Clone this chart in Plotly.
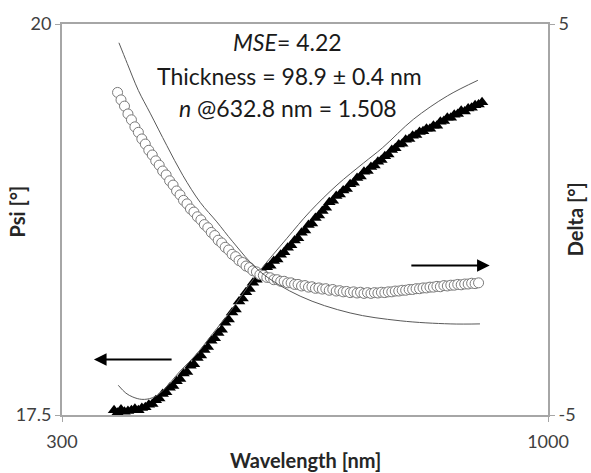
import plotly.graph_objects as go

# ---------------- data ----------------
psi_wl = list(range(375, 906, 5))
psi = [17.53, 17.515, 17.535, 17.52, 17.525, 17.53, 17.54, 17.53, 17.545, 17.55,
       17.565, 17.57, 17.595, 17.605, 17.635, 17.645, 17.675, 17.685, 17.715, 17.73,
       17.765, 17.775, 17.815, 17.825, 17.865, 17.88, 17.915, 17.935, 17.975, 17.99,
       18.025, 18.045, 18.09, 18.11, 18.155, 18.175, 18.225, 18.245, 18.285, 18.305,
       18.345, 18.365, 18.405, 18.415, 18.445, 18.455, 18.485, 18.495, 18.525, 18.54,
       18.57, 18.585, 18.615, 18.63, 18.665, 18.68, 18.715, 18.725, 18.76, 18.775,
       18.805, 18.825, 18.86, 18.87, 18.9, 18.91, 18.935, 18.945, 18.975, 18.985,
       19.015, 19.025, 19.055, 19.06, 19.085, 19.095, 19.12, 19.13, 19.155, 19.165,
       19.195, 19.205, 19.23, 19.235, 19.26, 19.265, 19.285, 19.29, 19.31, 19.315,
       19.33, 19.33, 19.35, 19.35, 19.375, 19.38, 19.4, 19.4, 19.42, 19.425,
       19.445, 19.44, 19.46, 19.465, 19.48, 19.485, 19.5]

delta_wl = list(range(380, 901, 5))
delta = [3.25, 3.06, 2.9, 2.7, 2.55, 2.37, 2.23, 2.06, 1.93, 1.77,
         1.65, 1.5, 1.39, 1.24, 1.14, 0.99, 0.88, 0.73, 0.63, 0.49,
         0.4, 0.27, 0.19, 0.07, -0.01, -0.13, -0.21, -0.33, -0.41, -0.53,
         -0.6, -0.71, -0.78, -0.89, -0.95, -1.05, -1.1, -1.19, -1.23, -1.31,
         -1.34, -1.41, -1.43, -1.48, -1.49, -1.54, -1.54, -1.58, -1.58, -1.62,
         -1.62, -1.66, -1.66, -1.7, -1.69, -1.73, -1.72, -1.76, -1.75, -1.78,
         -1.77, -1.81, -1.79, -1.83, -1.82, -1.85, -1.84, -1.87, -1.85, -1.88,
         -1.86, -1.89, -1.87, -1.89, -1.87, -1.88, -1.86, -1.87, -1.85, -1.85,
         -1.83, -1.83, -1.81, -1.81, -1.79, -1.79, -1.77, -1.77, -1.75, -1.75,
         -1.73, -1.73, -1.71, -1.72, -1.69, -1.7, -1.68, -1.68, -1.66, -1.67,
         -1.65, -1.65, -1.63, -1.64, -1.62]

psi_fit_wl = [381, 392, 402, 415, 430, 445, 470, 494, 517, 542, 581, 624, 657, 696, 734, 762, 806, 855, 899]
psi_fit = [17.69, 17.64, 17.615, 17.60, 17.61, 17.655, 17.78, 17.89, 18.02, 18.16,
           18.40, 18.63, 18.80, 18.97, 19.11, 19.21, 19.39, 19.54, 19.64]

delta_fit_wl = [382, 394, 410, 427, 451, 474, 499, 523, 546, 585, 643, 715, 787, 859, 902]
delta_fit = [4.52, 3.99, 3.3, 2.72, 1.89, 1.13, 0.44, -0.06, -0.57, -1.33,
             -1.96, -2.39, -2.59, -2.67, -2.67]

x_ticks = [300, 1000]
psi_ticks = [17.5, 20]
psi_tick_text = ["17.5", "20"]
delta_ticks = [-5, 5]
delta_tick_text = ["-5", "5"]

FONT = "Lato"
AXIS_COL = "#a6a6a6"
TICK_COL = "#404040"

fig = go.Figure()

fig.add_trace(go.Scatter(x=psi_wl, y=psi, mode="markers", yaxis="y",
                         marker=dict(symbol="triangle-up", size=11, color="black",
                                     line=dict(width=0)),
                         showlegend=False))
fig.add_trace(go.Scatter(x=psi_fit_wl, y=psi_fit, mode="lines", yaxis="y",
                         line=dict(color="#595959", width=1, shape="spline", smoothing=1),
                         showlegend=False))
fig.add_trace(go.Scatter(x=delta_wl, y=delta, mode="markers", yaxis="y2",
                         marker=dict(symbol="circle", size=10, color="white",
                                     line=dict(width=1, color="#7a7a7a")),
                         showlegend=False))
fig.add_trace(go.Scatter(x=delta_fit_wl, y=delta_fit, mode="lines", yaxis="y2",
                         line=dict(color="#595959", width=1, shape="spline", smoothing=1),
                         showlegend=False))

axis_common = dict(showgrid=False, zeroline=False, showline=True, linecolor=AXIS_COL,
                   linewidth=2, ticks="outside", ticklen=5, tickcolor=AXIS_COL,
                   tickwidth=1, tickfont=dict(family=FONT, size=18, color=TICK_COL))

fig.update_layout(
    width=591, height=473,
    margin=dict(l=62, r=43, t=20, b=58),
    paper_bgcolor="white", plot_bgcolor="white",
    xaxis=dict(range=[300, 1000], tickvals=x_ticks, mirror=True, ticklabelstandoff=4,
               **axis_common),
    yaxis=dict(range=[17.5, 20], tickvals=psi_ticks, ticktext=psi_tick_text, **axis_common),
    yaxis2=dict(range=[-5, 5], tickvals=delta_ticks, ticktext=delta_tick_text,
                overlaying="y", side="right", **axis_common),
)

ann = []
TXT = dict(family=FONT, size=23, color="#1a1a1a")
C = dict(xref="paper", yref="paper", showarrow=False, xanchor="center", yanchor="middle")
ann.append(dict(x=0.465, y=0.954, text="<i>MSE</i>= 4.22", font=TXT, **C))
ann.append(dict(x=0.468, y=0.868, text="Thickness = 98.9 ± 0.4 nm", font=TXT, **C))
ann.append(dict(x=0.465, y=0.785, text="<i>n</i> @632.8 nm = 1.508", font=TXT, **C))
TTL = dict(family=FONT, size=20, color="#262626")
ann.append(dict(x=0.5, y=-0.114, text="<b>Wavelength [nm]</b>", font=TTL, **C))
ann.append(dict(x=-0.093, y=0.52, textangle=-90, text="<b>Psi [°]</b>", font=TTL, **C))
ann.append(dict(x=1.055, y=0.5, textangle=-90, text="<b>Delta [°]</b>", font=TTL, **C))
ann.append(dict(x=346, y=17.855, ax=460, ay=17.855, xref="x", yref="y", axref="x", ayref="y",
                text="", showarrow=True, arrowhead=2, arrowsize=1.4, arrowwidth=1.8,
                arrowcolor="black", standoff=0, startstandoff=0))
ann.append(dict(x=916, y=18.456, ax=801, ay=18.456, xref="x", yref="y", axref="x", ayref="y",
                text="", showarrow=True, arrowhead=2, arrowsize=1.4, arrowwidth=1.8,
                arrowcolor="black", standoff=0, startstandoff=0))
fig.update_layout(annotations=ann)

fig.write_html("out.html", config={"displayModeBar": False},
               post_script="document.body.style.margin='0px';")
